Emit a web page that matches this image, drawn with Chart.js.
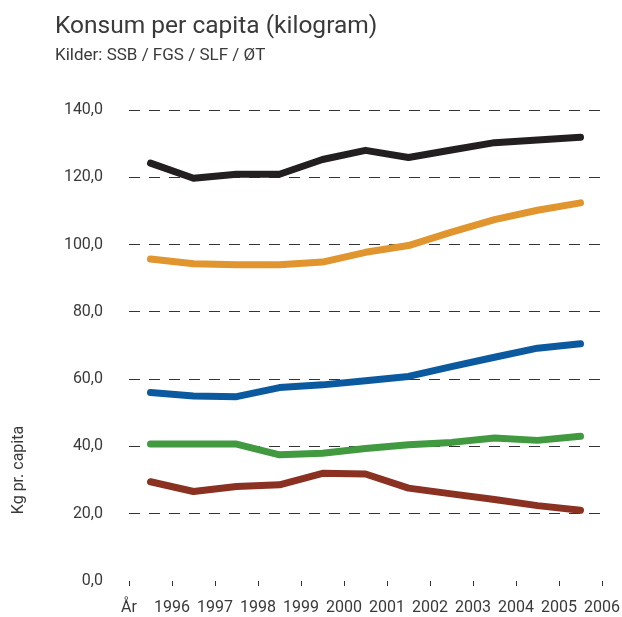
<!DOCTYPE html>
<html>
<head>
<meta charset="utf-8">
<script src="https://cdn.jsdelivr.net/npm/chart.js@4.4.4/dist/chart.umd.min.js"></script>
<style>
    html, body { margin: 0; padding: 0; background: #ffffff; }
    #wrap { position: relative; width: 622px; height: 617px; }
</style>
</head>
<body>
<div id="wrap"><canvas id="chart"></canvas></div>
<script>
// x-axis labels sit on the tick marks, the yearly points sit between them
const xLabels = ["År", "1996", "1997", "1998", "1999", "2000", "2001", "2002", "2003", "2004", "2005", "2006"];

const blackSeries = [124.2, 119.7, 120.9, 120.9, 125.3, 128.0, 125.9, 128.1, 130.3, 131.1, 131.9];
const orangeSeries = [95.7, 94.3, 94.0, 94.0, 94.8, 97.7, 99.7, 103.7, 107.4, 110.2, 112.4];
const blueSeries = [56.0, 55.0, 54.8, 57.5, 58.3, 59.5, 60.8, 63.7, 66.5, 69.2, 70.5];
const greenSeries = [40.7, 40.7, 40.7, 37.5, 38.0, 39.4, 40.5, 41.2, 42.5, 41.8, 43.0];
const brownSeries = [29.5, 26.6, 28.1, 28.6, 32.0, 31.8, 27.6, 25.9, 24.2, 22.4, 21.0];

const yMin = 0;
const yMax = 140;
const yStep = 20;

const titleText = "Konsum per capita (kilogram)";
const subtitleText = "Kilder: SSB / FGS / SLF / ØT";
const yAxisTitle = "Kg pr. capita";

const textColor = "#3a3a3a";
const fontFamily = "Roboto, 'Liberation Sans', sans-serif";

function toPoints(values) {
    // each value belongs to the middle of its year slot
    return values.map((v, i) => ({ x: i + 0.5, y: v }));
}

function makeDataset(label, values, color) {
    return {
        label,
        data: toPoints(values),
        borderColor: color,
        backgroundColor: color,
        borderWidth: 7,
        borderCapStyle: "round",
        borderJoinStyle: "round",
        tension: 0,
        pointRadius: 0,
        pointHoverRadius: 0,
        fill: false
    };
}

function formatTick(value) {
    return Number(value).toFixed(1).replace(".", ",");
}

const headerPlugin = {
    id: "header",
    afterDraw(chart) {
        const ctx = chart.ctx;
        ctx.save();
        ctx.fillStyle = textColor;
        ctx.textAlign = "left";
        ctx.textBaseline = "alphabetic";
        ctx.font = `24.5px ${fontFamily}`;
        ctx.fillText(titleText, 55, 33);
        ctx.font = `17px ${fontFamily}`;
        ctx.fillText(subtitleText, 55, 60);

        ctx.translate(19, 470);
        ctx.rotate(-Math.PI / 2);
        ctx.textAlign = "center";
        ctx.textBaseline = "middle";
        ctx.font = `16px ${fontFamily}`;
        ctx.fillText(yAxisTitle, 0, 0);
        ctx.restore();
    }
};

new Chart(document.getElementById("chart"), {
    type: "line",
    data: {
        datasets: [
            makeDataset("Svart", blackSeries, "#231f20"),
            makeDataset("Oransje", orangeSeries, "#e0952f"),
            makeDataset("Blå", blueSeries, "#0b5a9f"),
            makeDataset("Grønn", greenSeries, "#419a40"),
            makeDataset("Brun", brownSeries, "#8a3121")
        ]
    },
    options: {
        responsive: true,
        maintainAspectRatio: false,
        animation: false,
        layout: {
            padding: { left: 55, right: 20, top: 110, bottom: 0 }
        },
        plugins: {
            legend: { display: false },
            tooltip: { enabled: false },
            title: { display: false }
        },
        scales: {
            x: {
                type: "linear",
                min: 0,
                max: xLabels.length - 1,
                afterFit(scale) {
                    scale.height = 36;
                    scale.paddingLeft = 0;
                    scale.paddingRight = 0;
                },
                ticks: {
                    stepSize: 1,
                    autoSkip: false,
                    maxRotation: 0,
                    padding: 12,
                    color: textColor,
                    font: { family: fontFamily, size: 16 },
                    callback(value) {
                        return xLabels[value] ?? "";
                    }
                },
                grid: {
                    drawOnChartArea: false,
                    drawTicks: true,
                    tickLength: 5,
                    color: "#333333",
                    lineWidth: 1
                },
                border: { display: false }
            },
            y: {
                min: yMin,
                max: yMax,
                afterFit(scale) {
                    scale.width = 74;
                },
                ticks: {
                    stepSize: yStep,
                    padding: 26,
                    color: textColor,
                    font: { family: fontFamily, size: 16 },
                    callback(value) {
                        return formatTick(value);
                    }
                },
                grid: {
                    drawTicks: false,
                    lineWidth: 1,
                    color(context) {
                        return context.tick && context.tick.value === 0 ? "rgba(0,0,0,0)" : "#333333";
                    }
                },
                border: { display: false, dash: [11, 9] }
            }
        }
    },
    plugins: [headerPlugin]
});
</script>
</body>
</html>
